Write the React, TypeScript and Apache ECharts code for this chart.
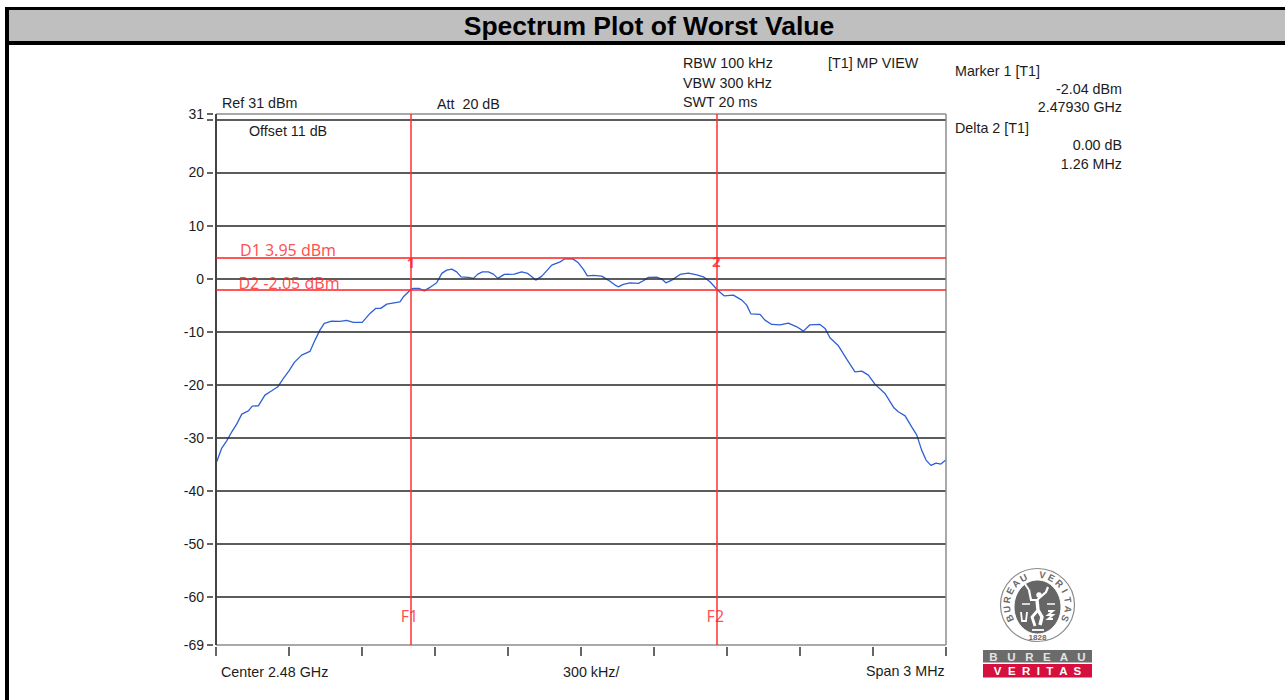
import React, { useEffect, useRef } from "react";
import * as echarts from "echarts";

const titleText = "Spectrum Plot of Worst Value";
const traceMHz = [
  -1.497, -1.477, -1.456, -1.435, -1.415, -1.394, -1.367, -1.351, -1.326, -1.299, -1.271, -1.246, -1.223, -1.2, -1.178, -1.148, -1.114, -1.093, -1.073, -1.055,
  -1.025, -0.99, -0.963, -0.936, -0.899, -0.867, -0.844, -0.823, -0.798, -0.744, -0.73, -0.699, -0.689, -0.666, -0.644, -0.621, -0.593, -0.572, -0.552, -0.531,
  -0.511, -0.493, -0.463, -0.442, -0.424, -0.405, -0.381, -0.36, -0.342, -0.315, -0.274, -0.244, -0.219, -0.202, -0.186, -0.161, -0.12, -0.086, -0.066, -0.032,
  -0.011, 0.01, 0.026, 0.051, 0.085, 0.112, 0.14, 0.153, 0.174, 0.201, 0.236, 0.256, 0.277, 0.311, 0.332, 0.349, 0.373, 0.407, 0.441, 0.476,
  0.503, 0.53, 0.559, 0.588, 0.626, 0.661, 0.681, 0.698, 0.736, 0.756, 0.784, 0.818, 0.852, 0.887, 0.914, 0.941, 0.982, 1.003, 1.023, 1.058,
  1.092, 1.126, 1.154, 1.181, 1.208, 1.249, 1.286, 1.304, 1.332, 1.359, 1.38, 1.4, 1.418, 1.438, 1.459, 1.479, 1.499,
];
const traceDbm = [
  -34.5, -31.98, -30.55, -28.85, -27.4, -25.52, -24.9, -24.01, -23.95, -21.94, -21.13, -20.38, -18.79, -17.36, -15.78, -14.41, -13.71, -11.58, -9.7, -8.44,
  -8.0, -8.06, -7.87, -8.25, -8.25, -6.55, -5.61, -5.61, -4.8, -4.37, -3.43, -2.04, -1.85, -1.85, -2.3, -1.66, -0.79, 0.98, 1.6, 1.79,
  1.28, 0.34, 0.23, 0.04, 0.85, 1.28, 1.28, 0.85, 0.04, 0.79, 0.85, 1.28, 0.98, 0.34, -0.28, 0.47, 2.54, 3.16, 3.73, 3.67,
  2.98, 1.73, 0.53, 0.6, 0.47, -0.28, -1.22, -1.54, -1.09, -0.79, -0.9, -0.41, 0.23, 0.28, -0.09, -0.79, -0.28, 0.79, 1.04, 0.72,
  0.34, -0.6, -2.04, -3.24, -3.11, -4.05, -4.99, -6.63, -6.74, -7.82, -8.63, -8.7, -8.38, -9.08, -9.89, -8.7, -8.63, -9.38, -11.15, -12.66,
  -15.16, -17.55, -17.42, -18.17, -19.87, -21.62, -24.33, -25.08, -25.84, -27.91, -29.47, -32.3, -34.18, -35.18, -34.75, -34.93, -34.18,
];
const yLabelValues = [31, 20, 10, 0, -10, -20, -30, -40, -50, -60, -69];
const yTickValues = [31, 30, 20, 10, 0, -10, -20, -30, -40, -50, -60, -69];
const gridLevels = [30, 20, 10, 0, -10, -20, -30, -40, -50, -60];
const displayLines = [3.95, -2.05];
const freqLines = [-0.7, 0.556];
const plotNotes = [
  { name: "D1 3.95 dBm", x: -1.204, y: 5.4, size: 16, weight: "normal" },
  { name: "D2 -2.05 dBm", x: -1.2, y: -0.9, size: 16, weight: "normal" },
  { name: "1", x: -0.699, y: 3.1, size: 15, weight: "bold" },
  { name: "2", x: 0.556, y: 3.3, size: 15, weight: "bold" },
  { name: "F1", x: -0.705, y: -63.5, size: 16, weight: "normal" },
  { name: "F2", x: 0.552, y: -63.5, size: 16, weight: "normal" },
];
const leftNotes: [string, number, number][] = [
  ["Ref 31 dBm", 222, 103], ["Att  20 dB", 437, 104], ["Offset 11 dB", 249, 131],
  ["RBW 100 kHz", 683, 63], ["VBW 300 kHz", 683, 83], ["SWT 20 ms", 683, 102],
  ["[T1] MP VIEW", 828, 63], ["Marker 1 [T1]", 955, 71], ["Delta 2 [T1]", 955, 128],
  ["Center 2.48 GHz", 221, 672], ["300 kHz/", 563, 672], ["Span 3 MHz", 866, 671],
];
const rightNotes: [string, number, number][] = [
  ["-2.04 dBm", 1122, 89], ["2.47930 GHz", 1122, 107], ["0.00 dB", 1122, 145], ["1.26 MHz", 1122, 164],
];
const sealTop = "BUREAU VERITAS";
const sealYear = "1828";
const bandTop = "B   U   R   E   A   U";
const bandBottom = "V  E  R  I  T  A  S";

const SANS = '"Liberation Sans", Arial, sans-serif';
const RED = "#ff1f1f";

function sealLetters() {
  const cx = 1037.5, cy = 605, rx = 31, ry = 30.5;
  const out: any[] = [];
  const chars = sealTop.split("");
  const span = 232;
  chars.forEach((c, i) => {
    const deg = -span / 2 + (span * i) / (chars.length - 1);
    const a = (deg * Math.PI) / 180;
    out.push({
      type: "text", x: cx + rx * Math.sin(a), y: cy - ry * Math.cos(a), rotation: -a, z: 20,
      style: { text: c, font: `bold 9.5px ${SANS}`, fill: "#6a6a6a", align: "center", verticalAlign: "middle" },
    });
  });
  return out;
}

function logo() {
  const W = "#ffffff";
  const stroke = (pts: number[][], w: number) => ({
    type: "polyline", z: 21, shape: { points: pts }, style: { stroke: W, lineWidth: w, fill: "none" },
  });
  return [
    { type: "ellipse", z: 19, shape: { cx: 1037.5, cy: 605, rx: 37, ry: 36.5 }, style: { fill: "#fff", stroke: "#8a8a8a", lineWidth: 1.2 } },
    { type: "ellipse", z: 20, shape: { cx: 1037.5, cy: 607, rx: 23.5, ry: 27 }, style: { fill: "#666666", stroke: "#ffffff", lineWidth: 1 } },
    ...sealLetters(),
    { type: "circle", z: 21, shape: { cx: 1039, cy: 595, r: 2.8 }, style: { fill: W } },
    stroke([[1029, 590], [1031, 600], [1037, 600], [1046, 592], [1048, 587]], 2.2),
    stroke([[1037, 600], [1038, 610], [1042, 617], [1040, 625]], 3.4),
    stroke([[1038, 610], [1032, 617], [1035, 626]], 2.8),
    stroke([[1025, 584], [1029, 590]], 2),
    stroke([[1021, 612], [1022, 621], [1026, 621], [1027, 612]], 1.8),
    stroke([[1022, 604], [1030, 604]], 1.5),
    stroke([[1047, 604], [1055, 604]], 1.5),
    stroke([[1048, 611], [1053, 611], [1048, 615], [1053, 615], [1048, 619], [1053, 619]], 1.8),
    stroke([[1032, 630], [1044, 630]], 1.8),
    { type: "text", z: 21, x: 1037.5, y: 637.5, style: { text: sealYear, font: `bold 8px ${SANS}`, fill: "#6a6a6a", align: "center", verticalAlign: "middle" } },
    { type: "rect", z: 19, shape: { x: 983, y: 650, width: 109, height: 12.5 }, style: { fill: "#6b6b6b" } },
    { type: "rect", z: 19, shape: { x: 983, y: 664, width: 109, height: 13.5 }, style: { fill: "#d5103f" } },
    { type: "text", z: 20, x: 1037.5, y: 656.5, style: { text: bandTop, font: `bold 11.5px ${SANS}`, fill: "#e4e4e4", align: "center", verticalAlign: "middle" } },
    { type: "text", z: 20, x: 1037.5, y: 671, style: { text: bandBottom, font: `bold 11.5px ${SANS}`, fill: "#ffffff", align: "center", verticalAlign: "middle" } },
  ];
}

const lineMark = (data: any[], color: string, width: number) => {
  const lineStyle = { color, width, type: "solid", opacity: 1 };
  return {
    symbol: ["none", "none"], silent: true, animation: false, precision: 4,
    label: { show: false }, emphasis: { disabled: true },
    lineStyle, data: data.map((d) => ({ ...d, lineStyle })),
  };
};

export default function App() {
  const ref = useRef<HTMLDivElement>(null);
  useEffect(() => {
    const chart = echarts.init(ref.current!, undefined, { renderer: "svg" });
    const textEl = (t: [string, number, number], align: string) => ({
      type: "text", x: t[1], y: t[2], z: 10,
      style: { text: t[0], font: `14.3px ${SANS}`, fill: "#1c1c1c", align, verticalAlign: "middle" },
    });
    chart.setOption({
      animation: false,
      backgroundColor: "#ffffff",
      grid: { left: 216, right: 339, top: 114, bottom: 55, show: false, containLabel: false },
      title: {
        text: titleText, left: 644, top: 6, textAlign: "center", z: 10,
        textStyle: { fontFamily: SANS, fontWeight: "bold", fontSize: 26.5, color: "#000", lineHeight: 30 },
      },
      xAxis: {
        type: "value", min: -1.5, max: 1.5, interval: 0.3, offset: 2,
        axisLine: { show: false, onZero: false }, splitLine: { show: false }, axisLabel: { show: false },
        axisTick: { show: true, length: 9, lineStyle: { color: "#333", width: 1.5 } },
      },
      yAxis: {
        type: "value", min: -69, max: 31, offset: 3,
        axisLine: { show: false, onZero: false }, splitLine: { show: false },
        axisTick: { show: true, length: 6, customValues: yTickValues, lineStyle: { color: "#333", width: 1.5 } },
        axisLabel: { show: true, margin: 9, customValues: yLabelValues, fontFamily: SANS, fontSize: 14, color: "#1c1c1c" },
      },
      series: [
        {
          type: "line", data: [], clip: false, silent: true, z: 1,
          markLine: lineMark(gridLevels.map((v) => ({ yAxis: v })), "#262626", 1.5),
        },
        {
          type: "line", data: [], clip: false, silent: true, z: 2,
          markLine: lineMark([{ yAxis: 31 }, { xAxis: 1.5 }, { yAxis: -69 }], "#8c8c8c", 1.5),
        },
        {
          type: "line", data: [], clip: false, silent: true, z: 2,
          markLine: lineMark([{ xAxis: -1.5 }], "#444444", 2),
        },
        {
          type: "line", data: [], clip: false, silent: true, z: 3,
          markLine: lineMark(displayLines.map((v) => ({ yAxis: v })), RED, 1.5),
        },
        {
          type: "line", data: [], clip: false, silent: true, z: 3,
          markLine: lineMark(freqLines.map((v) => ({ xAxis: v })), "#ff3030", 1.5),
        },
        {
          type: "line", z: 4, showSymbol: false, symbol: "none", silent: true,
          data: traceMHz.map((x, i) => [x, traceDbm[i]]),
          lineStyle: { color: "#2f5fd6", width: 1.3 },
        },
        {
          type: "scatter", z: 5, silent: true, symbolSize: 0, clip: false,
          data: plotNotes.map((n) => ({
            name: n.name, value: [n.x, n.y],
            label: { show: true, position: "inside", formatter: n.name, fontFamily: '"Noto Sans", sans-serif', fontSize: n.size, fontWeight: n.weight, color: RED },
          })),
        },
      ],
      graphic: [
        { type: "rect", z: 0, shape: { x: 5, y: 7, width: 1280, height: 38 }, style: { fill: "#000" } },
        { type: "rect", z: 0, shape: { x: 9, y: 10, width: 1276, height: 31 }, style: { fill: "#bfbfbf" } },
        { type: "rect", z: 0, shape: { x: 5, y: 45, width: 4, height: 655 }, style: { fill: "#000" } },
        ...leftNotes.map((t) => textEl(t, "left")),
        ...rightNotes.map((t) => textEl(t, "right")),
        ...logo(),
      ],
    });
    return () => chart.dispose();
  }, []);
  return <div ref={ref} style={{ position: "fixed", left: 0, top: 0, width: 1285, height: 700 }} />;
}
